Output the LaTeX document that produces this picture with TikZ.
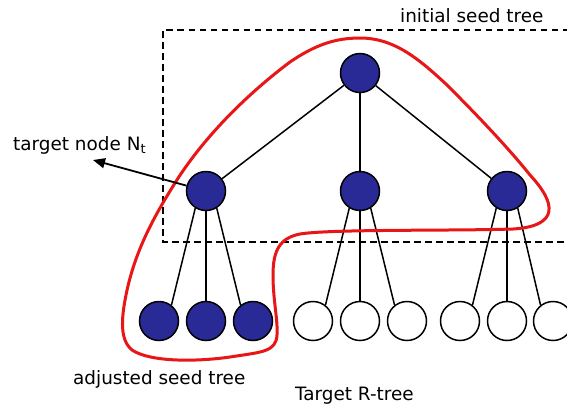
\documentclass[tikz,border=0pt]{standalone}
\usepackage{fontspec}
\setmainfont{DejaVu Sans}
\usetikzlibrary{arrows.meta}
\definecolor{nodeblue}{RGB}{42,42,150}
\definecolor{hullred}{RGB}{232,22,22}
\begin{document}
\begin{tikzpicture}[x=1bp,y=-1bp,
  treenode/.style={circle,draw=black,line width=1.5bp,minimum size=39bp,inner sep=0pt},
  seed/.style={treenode,fill=nodeblue},
  plain/.style={treenode,fill=white},
  link/.style={line width=1.5bp},
  caption/.style={font=\fontsize{18.4bp}{22bp}\selectfont,inner sep=0pt,anchor=base west},
  seedbox/.style={line width=1.6bp,dash pattern=on 6.5bp off 4.5bp},
  hull/.style={draw=hullred,line width=3bp},
  pointer/.style={line width=1.8bp,-{Triangle[length=12bp,width=10bp]}}]
\clip (0,0) rectangle (567,407);
\fill[white] (0,0) rectangle (567,407);

% dashed frame of the initial seed tree (open towards the right)
\draw[seedbox] (580,30) -- (163,30) -- (163,242) -- (580,242);

% tree nodes
\node[seed] (R)  at (360,73)  {};
\node[seed] (L)  at (206,191) {};
\node[seed] (M)  at (360,191) {};
\node[seed] (Rt) at (507,191) {};

\node[seed]  (a1) at (159,321) {};
\node[seed]  (a2) at (206,321) {};
\node[seed]  (a3) at (253,321) {};
\node[plain] (b1) at (313,321) {};
\node[plain] (b2) at (360,321) {};
\node[plain] (b3) at (407,321) {};
\node[plain] (c1) at (460,321) {};
\node[plain] (c2) at (507,321) {};
\node[plain] (c3) at (553,321) {};

% edges
\draw[link] (R) -- (L);
\draw[link] (R) -- (M);
\draw[link] (R) -- (Rt);
\foreach \p/\q in {L/a, M/b, Rt/c} {
  \draw[link] (\p.238) -- (\q1.52);
  \draw[link] (\p.south) -- (\q2.north);
  \draw[link] (\p.-58) -- (\q3.128);
}

% outline of the adjusted seed tree
\draw[hull] (360,38)
  .. controls (395,38) and (420,60) .. (447,85)
  .. controls (480,118) and (510,150) .. (530,175)
  .. controls (556,203) and (560,226) .. (513,229)
  .. controls (450,231) and (330,229) .. (300,234)
  .. controls (280,238) and (273,250) .. (273,275)
  .. controls (273,300) and (278,320) .. (277,335)
  .. controls (276,352) and (262,352) .. (230,357)
  .. controls (195,362) and (150,362) .. (132,350)
  .. controls (120,340) and (121,320) .. (126,295)
  .. controls (135,250) and (155,215) .. (175,183)
  .. controls (205,135) and (250,92) .. (290,62)
  .. controls (315,45) and (335,38) .. cycle;

% pointer to the target node
\coordinate (tip) at (93,160);
\draw[pointer] (L) -- (tip);

% captions
\node[caption] (initcap) at (400,22) {initial seed tree};
\node[caption] (targetcap) at (13,150) {target node N\raisebox{-3.5bp}{\fontsize{13bp}{13bp}\selectfont t}};
\node[caption] (adjcap) at (73,384) {adjusted seed tree};
\node[caption] (rtreecap) at (295,400) {Target R-tree};
\end{tikzpicture}
\end{document}
